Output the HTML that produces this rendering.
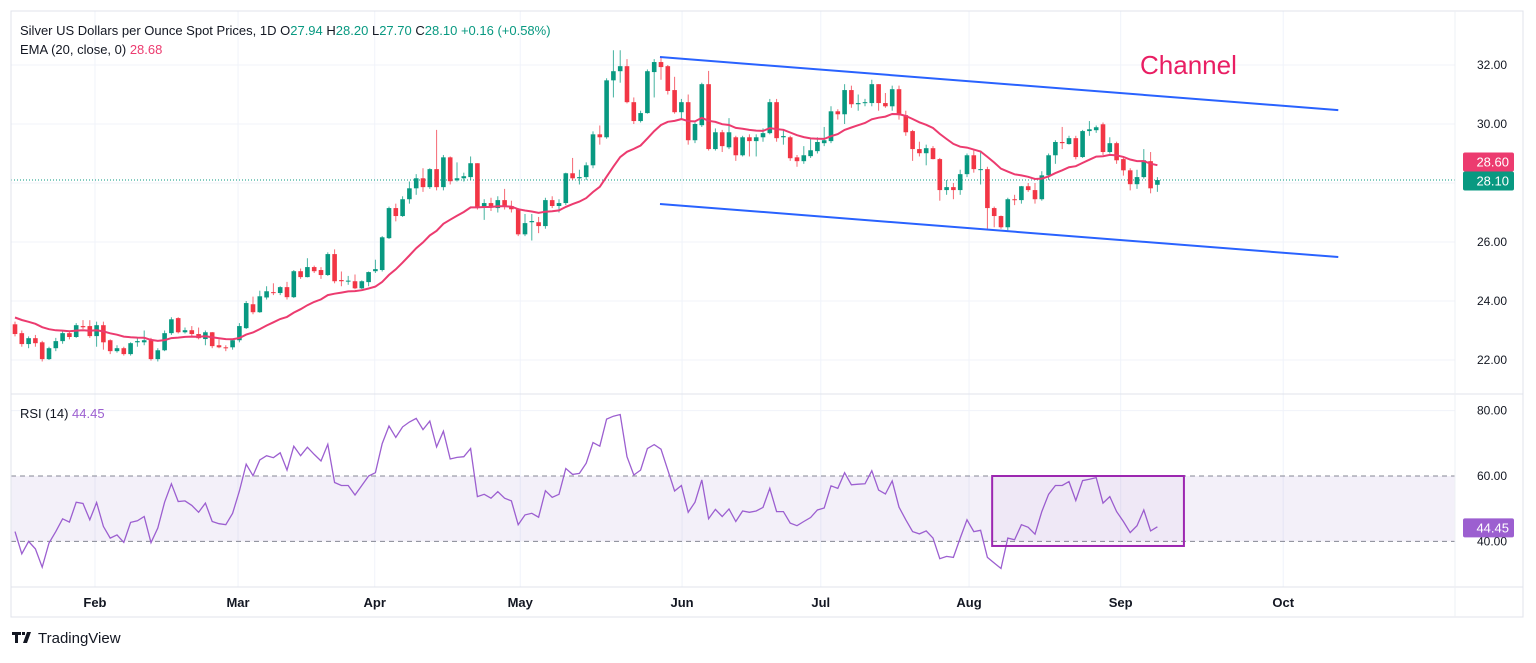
<!DOCTYPE html>
<html><head><meta charset="utf-8">
<style>
html,body{margin:0;padding:0;background:#fff;}
body{width:1536px;height:658px;overflow:hidden;font-family:"Liberation Sans",sans-serif;}
svg text{font-family:"Liberation Sans",sans-serif;}
</style></head>
<body>
<svg id="chart" width="1536" height="658" viewBox="0 0 1536 658" xmlns="http://www.w3.org/2000/svg">
  <rect x="0" y="0" width="1536" height="658" fill="#fff"/>
  <g id="grid"></g>
  <rect id="rsiBand" fill="rgba(126,87,194,0.09)"/>
  <g id="marks"></g>
  <g id="overlay"></g>
  <rect x="11" y="11" width="1512" height="606" fill="none" stroke="#e0e3eb" stroke-width="1"/>
  <line x1="11" y1="394" x2="1523" y2="394" stroke="#e0e3eb"/>
  <line x1="11" y1="587" x2="1523" y2="587" stroke="#e0e3eb"/>
  <line x1="1455" y1="11" x2="1455" y2="617" stroke="#eef0f4"/>
  <text x="20" y="35" font-size="13" fill="#131722">Silver US Dollars per Ounce Spot Prices, 1D <tspan fill="#131722">O</tspan><tspan fill="#089981">27.94</tspan> <tspan fill="#131722">H</tspan><tspan fill="#089981">28.20</tspan> <tspan fill="#131722">L</tspan><tspan fill="#089981">27.70</tspan> <tspan fill="#131722">C</tspan><tspan fill="#089981">28.10</tspan> <tspan fill="#089981">+0.16 (+0.58%)</tspan></text>
  <text x="20" y="54" font-size="13" fill="#131722">EMA (20, close, 0) <tspan fill="#ec3b6f">28.68</tspan></text>
  <text x="20" y="418" font-size="13" fill="#131722">RSI (14) <tspan fill="#9c5fd0">44.45</tspan></text>
  <text x="1140" y="74" font-size="26" fill="#e91e63">Channel</text>
  <g>
    <path d="M12 632h9v3h-3v8h-3v-8h-3z M22 632h3v3h-3z M27 632h4l-4 11h-4z" fill="#131722"/>
    <text x="38" y="643" font-size="15" fill="#131722">TradingView</text>
  </g>
</svg>
<script>
const opens = [23.21,22.91,22.54,22.74,22.60,22.03,22.40,22.64,22.91,22.78,23.15,23.15,22.81,23.18,22.67,22.30,22.40,22.20,22.60,22.60,22.67,22.03,22.33,22.91,23.42,22.94,23.01,22.88,22.71,22.94,22.50,22.43,22.43,22.67,23.08,23.89,23.62,24.12,24.30,24.27,24.47,24.13,25.01,24.81,25.15,25.05,24.88,25.59,24.71,24.67,24.67,24.43,24.64,25.01,25.05,26.13,27.15,26.88,27.45,27.82,28.16,27.86,28.47,27.86,28.87,28.09,28.16,28.20,28.67,27.18,27.32,27.15,27.42,27.22,27.11,26.26,26.67,26.67,26.54,27.42,27.22,27.32,28.33,28.16,28.20,28.60,29.65,29.55,31.48,31.79,31.96,30.74,30.10,30.37,31.76,32.10,31.96,31.15,30.40,30.74,29.45,29.96,31.35,29.15,29.72,29.21,29.55,28.94,29.55,29.42,29.55,29.69,30.74,29.55,29.55,28.87,28.74,28.91,29.08,29.35,29.42,30.43,30.33,31.15,30.67,30.71,30.71,31.35,30.71,30.60,31.18,30.30,29.76,29.15,29.01,29.18,28.81,27.76,27.86,27.76,28.30,28.94,28.44,28.47,27.15,26.88,26.50,27.45,27.42,27.89,27.76,27.45,28.26,28.94,29.39,29.32,29.52,28.88,29.76,29.79,29.99,29.05,29.35,28.81,28.43,27.96,28.20,28.74,27.94];
const closes = [22.88,22.54,22.74,22.57,22.03,22.40,22.64,22.91,22.78,23.18,23.11,22.81,23.18,22.60,22.30,22.40,22.20,22.57,22.64,22.67,22.03,22.33,22.91,23.38,22.94,23.01,22.88,22.74,22.94,22.47,22.43,22.42,22.67,23.15,23.93,23.62,24.16,24.33,24.28,24.47,24.13,25.01,24.81,25.15,25.01,24.88,25.59,24.67,24.67,24.69,24.43,24.67,24.98,25.08,26.16,27.15,26.88,27.45,27.82,28.16,27.86,28.47,27.86,28.87,28.06,28.16,28.23,28.67,27.18,27.32,27.18,27.42,27.22,27.11,26.26,26.64,26.71,26.54,27.42,27.22,27.32,28.33,28.16,28.20,28.60,29.65,29.55,31.48,31.79,31.96,30.74,30.10,30.37,31.79,32.10,31.93,31.12,30.40,30.74,29.45,30.00,31.35,29.15,29.72,29.25,29.72,28.94,29.55,29.42,29.55,29.69,30.74,29.52,29.59,28.84,28.74,28.94,29.11,29.39,29.45,30.43,30.33,31.15,30.67,30.71,30.74,31.35,30.71,30.60,31.18,30.30,29.72,29.15,29.01,29.18,28.81,27.76,27.86,27.76,28.30,28.94,28.47,28.47,27.15,26.88,26.50,27.45,27.42,27.89,27.76,27.45,28.26,28.94,29.39,29.35,29.52,28.88,29.76,29.82,29.89,29.05,29.35,28.77,28.43,27.96,28.20,28.77,27.82,28.10];
const highs = [23.3,23.0,22.8,22.85,22.65,22.45,22.75,23.0,22.97,23.25,23.35,23.35,23.3,23.3,22.7,22.5,22.45,22.6,22.75,23.0,22.75,22.4,23.0,23.45,23.45,23.1,23.15,23.1,23.0,22.95,22.7,22.5,22.7,23.25,24.0,24.15,24.35,24.5,24.6,24.5,24.65,25.05,25.1,25.45,25.2,25.15,25.65,25.75,25.0,24.85,24.9,24.7,25.0,25.4,26.2,27.2,27.3,27.55,28.05,28.3,28.5,28.5,29.8,28.95,28.9,28.7,28.35,28.9,28.67,27.45,27.5,27.55,27.8,27.4,27.15,26.95,26.95,26.85,27.5,27.55,27.45,28.35,28.85,28.45,28.7,29.75,29.95,31.55,32.5,32.5,32.2,30.9,30.45,31.85,32.2,32.25,32.0,31.6,30.85,31.0,30.05,31.4,31.8,29.85,29.8,30.2,29.6,29.6,29.65,29.65,29.85,30.85,30.85,29.8,29.6,28.95,29.25,29.5,29.55,29.9,30.6,30.5,31.35,31.3,31.0,30.85,31.5,31.35,31.05,31.3,31.3,30.45,29.8,29.4,29.3,29.25,28.85,28.1,28.0,28.45,29.0,29.1,29.1,28.55,27.2,26.9,27.5,27.6,27.9,28.0,28.0,28.4,29.0,29.45,29.9,29.6,29.6,29.8,30.1,29.95,30.05,29.55,29.4,28.85,28.5,28.45,29.15,29.05,28.20];
const lows = [22.8,22.45,22.4,22.45,21.95,22.0,22.3,22.55,22.7,22.75,23.05,22.75,22.45,22.35,22.2,22.25,22.15,22.15,22.45,22.5,21.98,21.95,22.3,22.85,22.9,22.9,22.8,22.7,22.5,22.4,22.4,22.3,22.35,22.6,23.05,23.55,23.6,24.05,24.2,24.2,24.05,24.1,24.75,24.8,24.95,24.75,24.85,24.6,24.5,24.55,24.4,24.4,24.5,24.95,25.0,26.1,26.7,26.85,27.3,27.6,27.7,27.8,27.75,27.75,27.95,28.05,28.05,28.1,27.1,26.75,27.05,27.0,27.1,27.0,26.2,26.2,26.05,26.3,26.45,27.15,27.0,27.25,28.1,27.95,28.1,28.5,29.3,29.5,30.9,31.4,30.7,30.0,30.05,30.35,30.9,31.5,31.0,30.35,30.15,29.3,29.35,29.9,29.1,29.1,29.05,29.15,28.75,28.9,28.9,28.9,29.4,29.65,29.4,29.3,28.75,28.55,28.65,28.85,29.0,29.25,29.35,30.15,30.0,30.55,30.45,30.6,30.6,30.45,30.55,30.45,30.15,29.6,28.75,28.9,28.6,28.8,27.4,27.6,27.45,27.6,28.2,28.35,27.95,26.45,26.5,26.45,26.4,27.25,27.3,27.7,27.3,27.4,28.1,28.65,29.15,29.3,28.8,28.85,29.6,29.7,28.95,29.0,28.65,28.25,27.75,27.8,28.15,27.65,27.70];
const rsiValues = [43.0,36.2,40.0,37.7,32.1,39.5,43.0,46.9,45.9,52.0,51.6,46.6,51.9,44.6,41.0,42.0,39.7,45.8,46.3,47.6,39.6,44.1,52.0,57.6,52.2,52.4,51.0,48.9,51.7,46.1,45.4,45.1,48.6,55.4,63.6,60.1,64.9,66.2,65.6,67.1,61.8,69.1,66.2,68.8,66.6,64.6,69.7,58.0,57.1,57.1,54.2,57.1,60.0,61.0,69.9,75.3,71.8,75.0,76.5,77.6,74.2,76.8,68.9,73.7,65.2,65.7,65.9,68.4,53.7,54.4,53.2,55.2,53.2,52.4,45.1,48.1,48.6,47.4,55.5,53.5,54.4,62.3,60.5,60.8,63.9,70.2,69.1,77.4,78.3,78.8,65.9,60.3,61.8,68.4,69.6,68.2,61.8,55.4,57.1,48.9,52.0,58.8,46.9,49.8,47.6,49.9,46.1,49.3,48.9,49.3,50.4,56.2,49.1,49.1,45.6,44.8,46.1,47.3,49.6,50.2,57.0,56.2,61.0,57.3,57.5,57.6,61.6,55.7,54.5,58.5,50.5,46.6,43.0,42.3,43.2,41.0,34.7,35.4,35.1,41.0,46.6,43.0,43.4,35.1,33.4,31.7,41.0,40.5,45.1,44.3,42.2,49.1,54.4,57.1,57.1,58.3,52.5,58.6,59.0,59.5,51.7,53.7,49.1,46.1,42.7,44.8,49.6,43.2,44.45];
const emaSeed = 23.5;
const priceTicks = [22,24,26,28,30,32];
const rsiTicks = [40,60,80];
const monthLabels = ["Feb","Mar","Apr","May","Jun","Jul","Aug","Sep","Oct"];
const monthIdx = [11.76,32.8,52.9,74.3,98.1,118.5,140.3,162.6,186.5];
const channelUpper = [[94.85,32.27],[194.6,30.47]];
const channelLower = [[94.85,27.29],[194.6,25.49]];
const rsiBox = {i0:143.7,i1:171.9,top:60,bottom:38.6};

const X = i => 15 + 6.8*i;
const Y = p => 65 + (32-p)*29.5;
const R = r => 476 + (60-r)*3.27;
const NS = "http://www.w3.org/2000/svg";
function mk(tag, attrs, parent){const e=document.createElementNS(NS,tag);for(const k in attrs)e.setAttribute(k,attrs[k]);parent.appendChild(e);return e;}
const grid=document.getElementById('grid'), marks=document.getElementById('marks'), ov=document.getElementById('overlay'), svg=document.getElementById('chart');

priceTicks.forEach(p=>{
  const l=mk('line',{x1:11,x2:1455,y1:Y(p),y2:Y(p),stroke:'#f0f3fa'},grid);
  
  
  const t=mk('text',{x:1507,y:Y(p)+4,'font-size':12,'text-anchor':'end',fill:'#131722'},svg);
  t.textContent=p.toFixed(2);
  
  
});
rsiTicks.forEach(r=>{
  if(r===80){const l=mk('line',{x1:11,x2:1455,y1:R(r),y2:R(r),stroke:'#f0f3fa'},grid);
    
    }
  const t=mk('text',{x:1507,y:R(r)+4,'font-size':12,'text-anchor':'end',fill:'#131722'},svg);
  t.textContent=r.toFixed(2);
  
  
});
monthLabels.forEach((m,k)=>{
  const x=X(monthIdx[k]);
  const l=mk('line',{x1:x,x2:x,y1:11,y2:587,stroke:'#f0f3fa'},grid);
  
  
  const t=mk('text',{x:x,y:607,'font-size':13,'text-anchor':'middle',fill:'#131722','font-weight':'bold'},svg);
  t.textContent=m;
  
  
});
const band=document.getElementById('rsiBand');
band.setAttribute('x',11);band.setAttribute('width',1444);band.setAttribute('y',R(60));band.setAttribute('height',R(40)-R(60));
[60,40].forEach(r=>{
  const l=mk('line',{x1:11,x2:1455,y1:R(r),y2:R(r),stroke:'#868993','stroke-dasharray':'5,4'},grid);
  
  
});
const last=closes[closes.length-1];
const lp=mk('line',{x1:11,x2:1455,y1:Y(last),y2:Y(last),stroke:'#089981','stroke-dasharray':'1,2'},grid);



opens.forEach((o,i)=>{
  const c=closes[i], up=c>=o, col=up?'#089981':'#f23645';
  const g=mk('g',{},marks);
  
  
  mk('line',{x1:X(i),x2:X(i),y1:Y(highs[i]),y2:Y(lows[i]),stroke:col,'stroke-width':1,opacity:0.75},g);
  const top=Y(Math.max(o,c)), h=Math.max(1,Math.abs(Y(o)-Y(c)));
  mk('rect',{x:X(i)-2.3,y:top,width:4.6,height:h,fill:col},g);
});
let e=emaSeed; const k=2/21; const ema=[];
closes.forEach(c=>{e=c*k+e*(1-k);ema.push(e);});
const emaPath=mk('path',{d:ema.map((v,i)=>(i?'L':'M')+X(i).toFixed(1)+' '+Y(v).toFixed(1)).join(''),fill:'none',stroke:'#ec3b6f','stroke-width':2},marks);


const rsiPath=mk('path',{d:rsiValues.map((v,i)=>(i?'L':'M')+X(i).toFixed(1)+' '+R(v).toFixed(1)).join(''),fill:'none',stroke:'#9c5fd0','stroke-width':1.3},marks);


[channelUpper,channelLower].forEach((ln,j)=>{
  const l=mk('line',{x1:X(ln[0][0]),y1:Y(ln[0][1]),x2:X(ln[1][0]),y2:Y(ln[1][1]),stroke:'#2962ff','stroke-width':2},ov);
  
  
});
const bx=mk('rect',{x:X(rsiBox.i0),y:R(rsiBox.top),width:X(rsiBox.i1)-X(rsiBox.i0),height:R(rsiBox.bottom)-R(rsiBox.top),fill:'rgba(156,39,176,0.04)',stroke:'#9c27b0','stroke-width':2},ov);


function tag(v,y,col,name){
  const g=mk('g',{},svg);
  
  
  mk('rect',{x:1463,y:y-9.5,width:51,height:19,rx:2,fill:col},g);
  const t=mk('text',{x:1509,y:y+4.5,'font-size':13,'text-anchor':'end',fill:'#fff'},g);
  t.textContent=v.toFixed(2);
}
tag(ema[ema.length-1],Y(28.68)-1,'#ec3b6f','ema-price-tag');
tag(last,Y(last)+1,'#089981','last-price-tag');
tag(rsiValues[rsiValues.length-1],R(44.45)+1,'#9c5fd0','rsi-value-tag');
</script>
</body></html>
